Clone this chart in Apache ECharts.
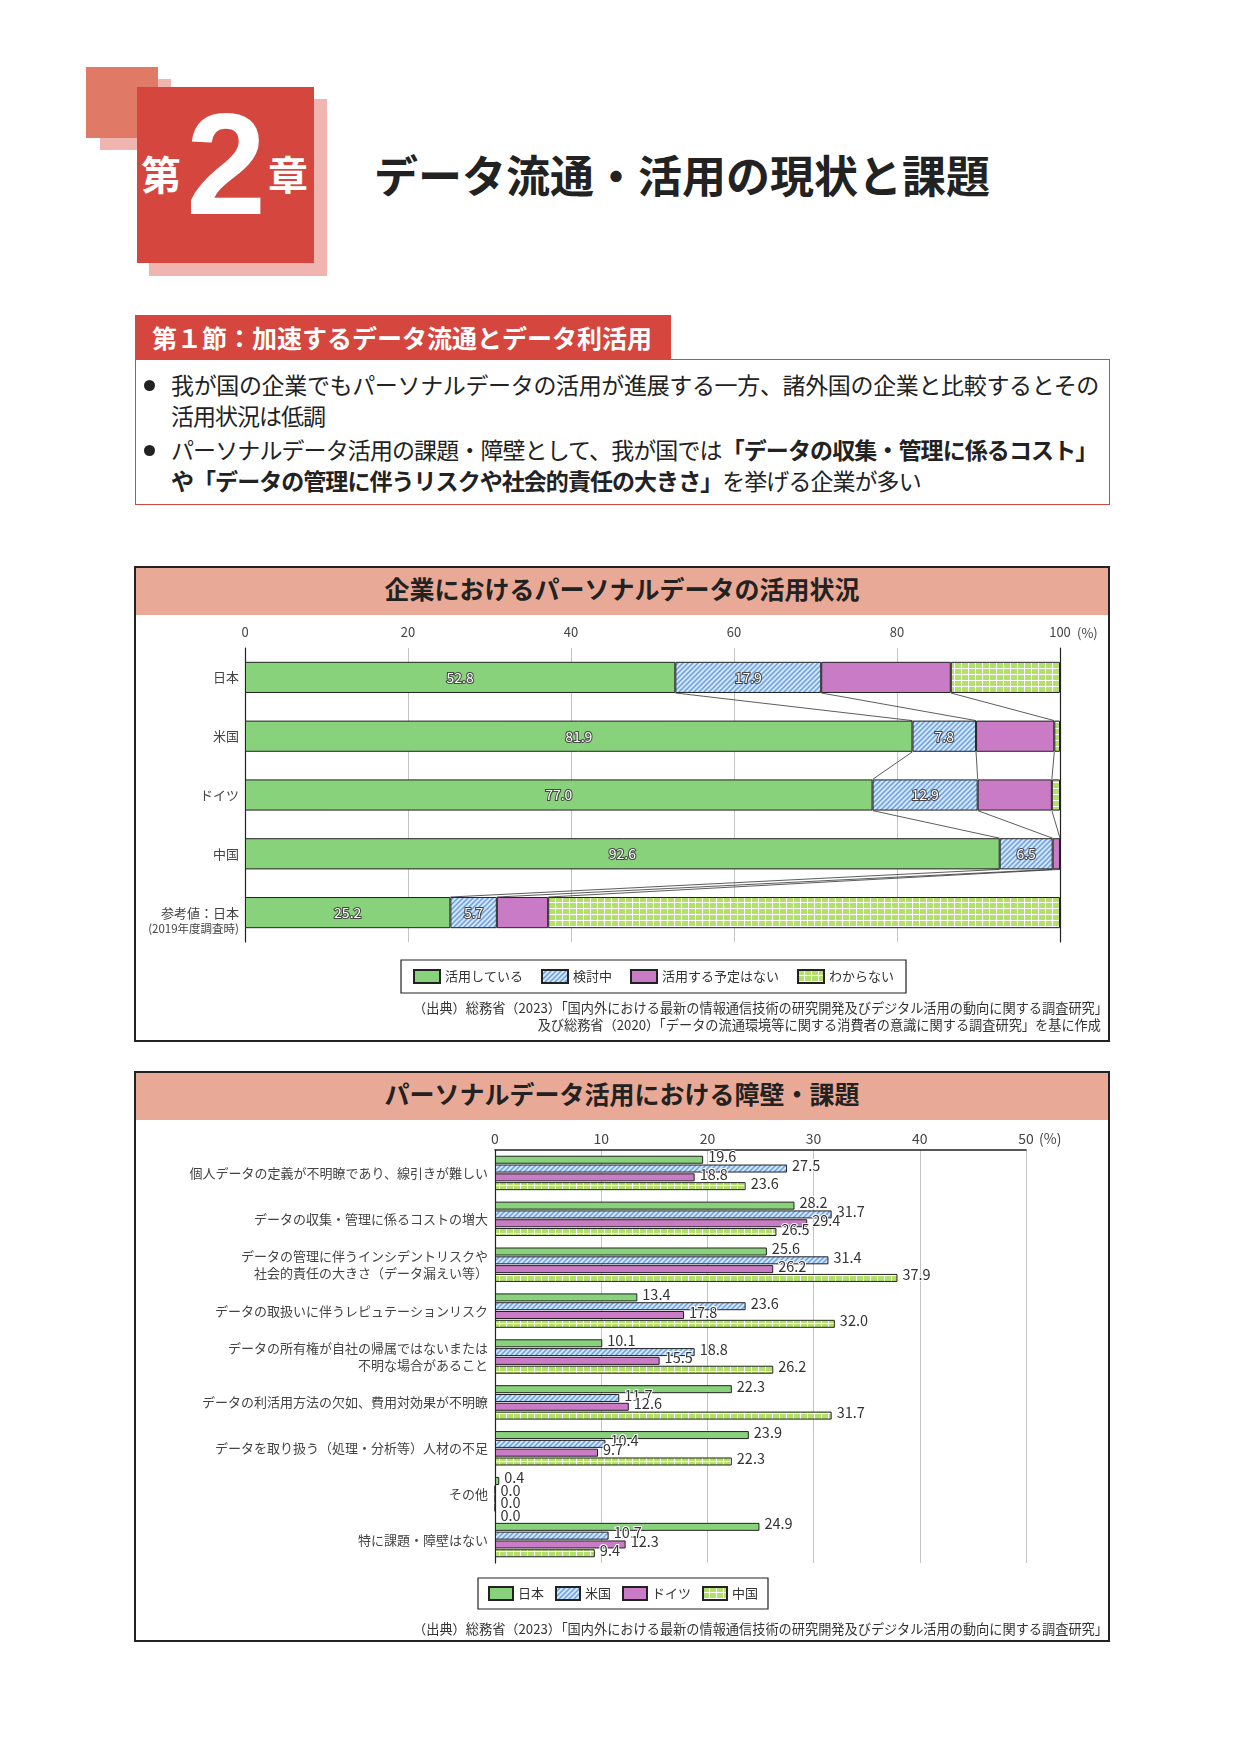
<!DOCTYPE html>
<html><head><meta charset="utf-8">
<script src="https://cdn.jsdelivr.net/npm/echarts@6/dist/echarts.min.js"></script>
<style>
body{margin:0;background:#fff;font-family:"Noto Sans CJK JP",sans-serif;color:#222;}
#page{position:relative;width:1241px;height:1754px;overflow:hidden;background:#fff;}
.abs{position:absolute;}
.line{position:absolute;left:171px;height:32px;line-height:32px;font-size:23px;white-space:nowrap;color:#222;}
.dot{position:absolute;left:144px;width:11px;height:11px;border-radius:50%;background:#222;}
.src{position:absolute;font-size:13.2px;line-height:17px;color:#333;white-space:nowrap;text-align:right;}
.hdr{position:absolute;left:136px;width:972px;height:41px;line-height:41px;text-align:center;font-weight:bold;font-size:25px;color:#222;}
.hdrbg{position:absolute;left:136px;width:972px;height:47px;background:#E8A996;}
.box{position:absolute;left:134px;width:976px;border:2px solid #222;box-sizing:border-box;}
.unit{position:absolute;height:18px;line-height:18px;color:#444;white-space:nowrap;}
</style></head><body><div id="page">

<div class="abs" style="left:100px;top:79px;width:71px;height:71px;background:#F0B5B1"></div>
<div class="abs" style="left:86px;top:67px;width:72px;height:71px;background:#E07A67"></div>
<div class="abs" style="left:149px;top:99px;width:178px;height:177px;background:#F0B5B1"></div>
<div class="abs" style="left:137px;top:87px;width:177px;height:176px;background:#D4463E"></div>
<div class="abs" style="left:141px;top:153px;font-size:40px;line-height:1;font-weight:bold;color:#fff;">第</div>
<div class="abs" style="left:186px;top:93px;font-size:144px;line-height:1;font-weight:bold;color:#fff;font-family:'Liberation Sans',Arial,sans-serif;">2</div>
<div class="abs" style="left:268px;top:153px;font-size:40px;line-height:1;font-weight:bold;color:#fff;">章</div>
<div class="abs" style="left:374px;top:152px;font-size:44px;line-height:1;font-weight:bold;color:#222;white-space:nowrap;">データ流通・活用の現状と課題</div>

<div class="abs" style="left:135px;top:359px;width:975px;height:146px;border:1.5px solid #D4463E;box-sizing:border-box;"></div>
<div class="abs" style="left:135px;top:315px;width:536px;height:45px;line-height:45px;background:#D4463E;color:#fff;font-weight:bold;font-size:25px;white-space:nowrap;"><span style="padding-left:17px">第１節：加速するデータ流通とデータ利活用</span></div>

<div class="dot" style="top:380px"></div>
<div class="line" style="top:368px;letter-spacing:-0.35px">我が国の企業でもパーソナルデータの活用が進展する一方、諸外国の企業と比較するとその</div>
<div class="line" style="top:399px;letter-spacing:-1px">活用状況は低調</div>
<div class="dot" style="top:445px"></div>
<div class="line" style="top:433px;letter-spacing:-0.9px">パーソナルデータ活用の課題・障壁として、我が国では<b>「データの収集・管理に係るコスト」</b></div>
<div class="line" style="top:464px;letter-spacing:-0.95px"><b>や「データの管理に伴うリスクや社会的責任の大きさ」</b>を挙げる企業が多い</div>

<div class="box" style="top:566px;height:476px;"></div>
<div class="hdrbg" style="top:568px;"></div>
<div class="hdr" style="top:568px;">企業におけるパーソナルデータの活用状況</div>
<div id="c1" class="abs" style="left:136px;top:615px;width:972px;height:425px;"></div>
<div class="unit" style="left:1077px;top:624px;font-size:13px;">(%)</div>
<div class="src" style="right:133px;top:999px;">（出典）総務省（2023）「国内外における最新の情報通信技術の研究開発及びデジタル活用の動向に関する調査研究」</div>
<div class="src" style="right:140px;top:1016px;">及び総務省（2020）「データの流通環境等に関する消費者の意識に関する調査研究」を基に作成</div>

<div class="box" style="top:1071px;height:571px;"></div>
<div class="hdrbg" style="top:1073px;"></div>
<div class="hdr" style="top:1073px;">パーソナルデータ活用における障壁・課題</div>
<div id="c2" class="abs" style="left:136px;top:1120px;width:972px;height:519px;"></div>
<div class="unit" style="left:1039px;top:1129px;font-size:14px;">(%)</div>
<div class="src" style="right:133px;top:1620px;">（出典）総務省（2023）「国内外における最新の情報通信技術の研究開発及びデジタル活用の動向に関する調査研究」</div>

</div>
<script>
// ---------- Data: chart 1 ----------
const cats1 = ['日本', '米国', 'ドイツ', '中国', '参考値：日本\n(2019年度調査時)'];
const names1 = ['活用している', '検討中', '活用する予定はない', 'わからない'];
const using = [52.8, 81.9, 77.0, 92.6, 25.2];
const considering = [17.9, 7.8, 12.9, 6.5, 5.7];
const noPlan = [15.9, 9.6, 9.1, 0.9, 6.3];
const unknown = [13.4, 0.7, 1.0, 0.0, 62.8];
const ticks1 = [0, 20, 40, 60, 80, 100];

// ---------- Data: chart 2 ----------
const cats2 = [
  '個人データの定義が不明瞭であり、線引きが難しい',
  'データの収集・管理に係るコストの増大',
  'データの管理に伴うインシデントリスクや\n社会的責任の大きさ（データ漏えい等）',
  'データの取扱いに伴うレピュテーションリスク',
  'データの所有権が自社の帰属ではないまたは\n不明な場合があること',
  'データの利活用方法の欠如、費用対効果が不明瞭',
  'データを取り扱う（処理・分析等）人材の不足',
  'その他',
  '特に課題・障壁はない'
];
const names2 = ['日本', '米国', 'ドイツ', '中国'];
const japan = [19.6, 28.2, 25.6, 13.4, 10.1, 22.3, 23.9, 0.4, 24.9];
const usa = [27.5, 31.7, 31.4, 23.6, 18.8, 11.7, 10.4, 0.0, 10.7];
const germany = [18.8, 29.4, 26.2, 17.8, 15.5, 12.6, 9.7, 0.0, 12.3];
const china = [23.6, 26.5, 37.9, 32.0, 26.2, 31.7, 22.3, 0.0, 9.4];
const ticks2 = [0, 10, 20, 30, 40, 50];

// ---------- Patterns ----------
function hatch() {
  const c = document.createElement('canvas'); c.width = 5; c.height = 5;
  const g = c.getContext('2d');
  g.fillStyle = '#D3E5FA'; g.fillRect(0, 0, 5, 5);
  g.strokeStyle = '#6A9FE1'; g.lineWidth = 1.5;
  g.beginPath();
  g.moveTo(-1, 6); g.lineTo(6, -1);
  g.moveTo(-1, 1); g.lineTo(1, -1);
  g.moveTo(4, 6); g.lineTo(6, 4);
  g.stroke();
  return c;
}
function gridPat() {
  const c = document.createElement('canvas'); c.width = 7; c.height = 6;
  const g = c.getContext('2d');
  g.fillStyle = '#B3DF6B'; g.fillRect(0, 0, 7, 6);
  g.fillStyle = '#ffffff'; g.fillRect(6, 0, 1, 6); g.fillRect(0, 5, 7, 1);
  return c;
}
const GREEN = '#88D27B', PURPLE = '#C97CC5';
const BLUE = { image: hatch(), repeat: 'repeat' };
const LGREEN = { image: gridPat(), repeat: 'repeat' };
const colors = [GREEN, BLUE, PURPLE, LGREEN];
const FONT = 'Noto Sans CJK JP';

// ---------- Chart 1 ----------
const series1Data = [using, considering, noPlan, unknown];
const cum = [];
series1Data.forEach((arr, k) => {
  cum.push(arr.map((v, i) => v + (k > 0 ? cum[k - 1][i] : 0)));
});
const links = [];
for (let i = 0; i < cats1.length - 1; i++) {
  for (let k = 0; k < 3; k++) links.push([cum[k][i], i, cum[k][i + 1], i + 1]);
}
const BAR1 = 0.53;
const c1 = echarts.init(document.getElementById('c1'), null, { renderer: 'canvas' });
c1.setOption({
  animation: false,
  textStyle: { fontFamily: FONT },
  grid: { left: 109, top: 33, width: 815, height: 294 },
  xAxis: {
    type: 'value', position: 'top', min: ticks1[0], max: ticks1[ticks1.length - 1], interval: ticks1[1] - ticks1[0],
    axisLine: { show: false }, axisTick: { show: false },
    axisLabel: { fontSize: 13, color: '#444', margin: 9, fontFamily: FONT },
    splitLine: { lineStyle: { color: '#c4c4c4', width: 1 } }
  },
  yAxis: [{
    type: 'category', data: cats1, inverse: true,
    axisLine: { show: true, lineStyle: { color: '#222', width: 1.2 } },
    axisTick: { show: false },
    axisLabel: {
      margin: 6, color: '#444', fontFamily: FONT,
      formatter: v => {
        const p = v.split('\n');
        return p.length > 1 ? '{p| }\n{a|' + p[0] + '}\n{b|' + p[1] + '}' : '{a|' + v + '}';
      },
      rich: {
        a: { fontSize: 13, lineHeight: 16, color: '#444', fontFamily: FONT },
        b: { fontSize: 11.5, lineHeight: 16, color: '#444', fontFamily: FONT },
        p: { fontSize: 11, lineHeight: 16 }
      }
    }
  }, {
    type: 'category', data: cats1, inverse: true, position: 'right',
    axisLine: { show: true, lineStyle: { color: '#222', width: 1.2 } },
    axisTick: { show: false }, axisLabel: { show: false }
  }],
  legend: {
    data: names1, left: 265, top: 345, icon: 'rect', itemWidth: 26, itemHeight: 13, itemGap: 18,
    padding: [9, 12], borderColor: '#222', borderWidth: 1.2,
    textStyle: { fontSize: 13, color: '#333', fontFamily: FONT }
  },
  series: series1Data.map((arr, k) => ({
    name: names1[k], type: 'bar', stack: 'all', data: arr, barWidth: (BAR1 * 100) + '%',
    itemStyle: { color: colors[k], borderColor: '#222', borderWidth: 1 },
    label: k < 2 ? {
      show: true, position: 'inside', fontSize: 14, color: '#fff',
      textBorderColor: '#444', textBorderWidth: 2, fontFamily: FONT,
      formatter: p => p.value.toFixed(1)
    } : { show: false }
  })).concat([{
    type: 'custom', name: 'links', silent: true, z: 5,
    data: links, encode: { x: [0, 2], y: [1, 3] },
    renderItem: (params, api) => {
      const p0 = api.coord([api.value(0), api.value(1)]);
      const p1 = api.coord([api.value(2), api.value(3)]);
      const half = api.size([0, 1])[1] * BAR1 / 2;
      return { type: 'line', shape: { x1: p0[0], y1: p0[1] + half, x2: p1[0], y2: p1[1] - half },
        style: { stroke: '#333', lineWidth: 0.8 } };
    }
  }])
});

// ---------- Chart 2 ----------
const series2Data = [japan, usa, germany, china];
const c2 = echarts.init(document.getElementById('c2'), null, { renderer: 'canvas' });
c2.setOption({
  animation: false,
  textStyle: { fontFamily: FONT },
  grid: { left: 359, top: 30, width: 531, height: 413 },
  xAxis: {
    type: 'value', position: 'top', min: ticks2[0], max: ticks2[ticks2.length - 1], interval: ticks2[1] - ticks2[0],
    axisLine: { show: true, lineStyle: { color: '#222', width: 1.5 } }, axisTick: { show: false },
    axisLabel: { fontSize: 14, color: '#444', margin: 4, fontFamily: FONT },
    splitLine: { lineStyle: { color: '#c4c4c4', width: 1 } }
  },
  yAxis: {
    type: 'category', data: cats2, inverse: true,
    axisLine: { show: true, lineStyle: { color: '#222', width: 1.2 } },
    axisTick: { show: false },
    axisLabel: { fontSize: 13, color: '#444', margin: 7, lineHeight: 17, fontFamily: FONT }
  },
  legend: {
    data: names2, left: 342, top: 458, icon: 'rect', itemWidth: 24, itemHeight: 13, itemGap: 11,
    padding: [8, 10], borderColor: '#222', borderWidth: 1.2,
    textStyle: { fontSize: 13, color: '#333', fontFamily: FONT }
  },
  series: series2Data.map((arr, k) => ({
    name: names2[k], type: 'bar', barCategoryGap: '25%', barGap: '10%',
    // zero-value labels are spread apart slightly so they stay legible
    data: arr.map(v => v === 0 ? { value: v, label: { offset: [0, -3 + k * 3.7] } } : v),
    itemStyle: { color: colors[k], borderColor: '#222', borderWidth: 1 },
    label: {
      show: true, position: 'right', distance: 5, offset: [0, -3], fontSize: 14.5, color: '#333',
      textBorderColor: '#fff', textBorderWidth: 2, fontFamily: FONT,
      formatter: p => p.value.toFixed(1)
    }
  }))
});
</script>
</body></html>
